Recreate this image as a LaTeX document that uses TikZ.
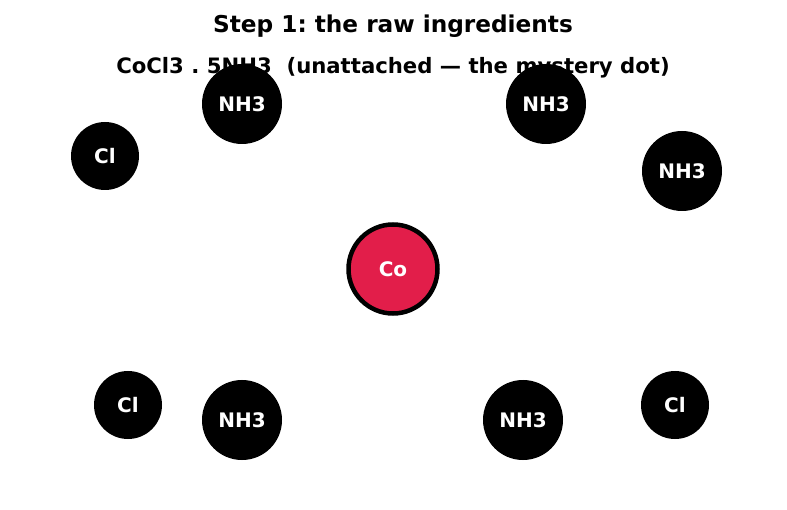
\documentclass[tikz,border=0pt]{standalone}
\usepackage{fontspec}
\setmainfont{DejaVu Sans}
\usepackage{tikz}
\frenchspacing
\definecolor{cored}{RGB}{226,30,74}
\tikzset{
  ligand/.style={circle, draw=none, fill=black, text=white, minimum size=80pt, inner sep=0pt, font=\fontsize{20}{20}\selectfont\bfseries},
  chloride/.style={circle, draw=none, fill=black, text=white, minimum size=68pt, inner sep=0pt, font=\fontsize{20}{20}\selectfont\bfseries},
  metal/.style={circle, draw=black, line width=4.5pt, fill=cored, text=white, minimum size=89pt, inner sep=0pt, font=\fontsize{20}{20}\selectfont\bfseries}
}

\begin{document}
\begin{tikzpicture}[x=1pt, y=-1pt]
    \useasboundingbox (0,0) rectangle (787,510);
    % Titles
    \node [font=\fontsize{23.2}{23.2}\selectfont\bfseries] (title) at (393,26) {Step 1: the raw ingredients};
    \node [font=\fontsize{21.2}{21.2}\selectfont\bfseries] (formula) at (393,68) {CoCl3 . 5NH3\ \ (unattached — the mystery dot)};
    % Place nodes
    \node [metal] (Co) at (393,269) {Co};
    \node [ligand] (N1) at (242,104) {NH3};
    \node [ligand] (N2) at (546,104) {NH3};
    \node [ligand] (N3) at (682,171) {NH3};
    \node [ligand] (N4) at (242,420) {NH3};
    \node [ligand] (N5) at (523,420) {NH3};
    \node [chloride] (Cl1) at (105,156) {Cl};
    \node [chloride] (Cl2) at (128,405) {Cl};
    \node [chloride] (Cl3) at (675,405) {Cl};
\end{tikzpicture}
\end{document}
